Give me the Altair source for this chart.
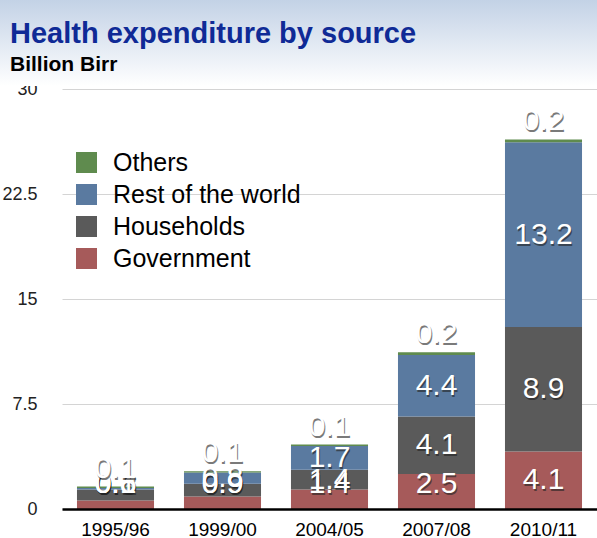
import altair as alt
import pandas as pd

years = ["1995/96", "1999/00", "2004/05", "2007/08", "2010/11"]
government = [0.6, 0.9, 1.4, 2.5, 4.1]
households = [0.8, 0.9, 1.4, 4.1, 8.9]
rest_of_world = [0.1, 0.8, 1.7, 4.4, 13.2]
others = [0.1, 0.1, 0.1, 0.2, 0.2]

sources = ["Government", "Households", "Rest of the world", "Others"]
legend_order = ["Others", "Rest of the world", "Households", "Government"]
colors = ["#5f8b4e", "#5a7aa0", "#5a5a5a", "#a65a5a"]
y_ticks = [0, 7.5, 15, 22.5, 30]

rows = []
for i, y in enumerate(years):
    for k, (s, vals) in enumerate(zip(sources, [government, households, rest_of_world, others])):
        rows.append({"year": y, "source": s, "order": k, "value": vals[i]})
df = pd.DataFrame(rows)

FONT = "Liberation Sans"

base = alt.Chart(df).transform_stack(
    stack="value", groupby=["year"], sort=[alt.SortField("order", order="ascending")], as_=["y0", "y1"]
).transform_calculate(
    mid="max((datum.y0 + datum.y1) / 2, 1.8)"
)

xenc = alt.X(
    "year:N", sort=years, title=None,
    scale=alt.Scale(paddingInner=0.28, paddingOuter=0.14),
    axis=alt.Axis(labelAngle=0, labelFontSize=19, labelColor="#000", labelFont=FONT,
                  ticks=False, tickSize=0, labelPadding=11, domain=True, domainColor="#000",
                  domainWidth=2.5, grid=False, zindex=1),
)

bars = base.mark_bar().encode(
    x=xenc,
    y=alt.Y("y0:Q", title=None, scale=alt.Scale(domain=[0, 30], nice=False),
            axis=alt.Axis(values=y_ticks, labelExpr="datum.value", labelFontSize=18,
                          labelColor="#222", labelFont=FONT, ticks=False, domain=False,
                          gridColor="#d4d4d4", gridWidth=1, labelPadding=25)),
    y2="y1:Q",
    color=alt.Color("source:N", scale=alt.Scale(domain=legend_order, range=colors),
                    legend=alt.Legend(title=None, orient="none", legendX=12, legendY=61,
                                      symbolType="square", symbolSize=440, symbolStrokeWidth=0,
                                      labelFontSize=25, labelFont=FONT, labelColor="#000",
                                      labelLimit=400,
                                      labelOffset=14, rowPadding=6, padding=0)),
)

inner = base.transform_filter("datum.order < 3")
top = base.transform_filter("datum.order == 3")

xt = alt.X("year:N", sort=years, title=None)

shadow_in = inner.mark_text(fontSize=30, font=FONT, color="#222", opacity=0.6, dx=1, dy=2,
                            baseline="middle").encode(
    x=xt, y=alt.Y("mid:Q", title=None), text=alt.Text("value:Q", format=".1f"))
text_in = inner.mark_text(fontSize=30, font=FONT, color="#fff", baseline="middle").encode(
    x=xt, y=alt.Y("mid:Q", title=None), text=alt.Text("value:Q", format=".1f"))

shadow_top = top.mark_text(fontSize=30, font=FONT, color="#222", opacity=0.6, dx=1, dy=-16,
                           baseline="middle").encode(
    x=xt, y=alt.Y("y1:Q", title=None), text=alt.Text("value:Q", format=".1f"))
text_top = top.mark_text(fontSize=30, font=FONT, color="#fff", dy=-18, baseline="middle").encode(
    x=xt, y=alt.Y("y1:Q", title=None), text=alt.Text("value:Q", format=".1f"))

one = alt.Chart(pd.DataFrame({"a": [0]}))
header = one.mark_rect(
    fill=alt.LinearGradient(gradient="linear",
                            stops=[alt.GradientStop(color="#c3d2e6", offset=0),
                                   alt.GradientStop(color="#ffffff", offset=1)],
                            x1=0, x2=0, y1=0, y2=1)
).encode(x=alt.value(-62), x2=alt.value(535), y=alt.value(-89), y2=alt.value(-3))

title = one.mark_text(text="Health expenditure by source", font=FONT, fontSize=29,
                      fontWeight="bold", color="#0f2a96", align="left",
                      baseline="alphabetic").encode(x=alt.value(-52), y=alt.value(-46))
subtitle = one.mark_text(text="Billion Birr", font=FONT, fontSize=21, fontWeight="bold",
                         color="#000", align="left",
                         baseline="alphabetic").encode(x=alt.value(-52), y=alt.value(-18))

chart = alt.layer(bars, shadow_in, text_in, shadow_top, text_top, header, title, subtitle).properties(
    width=535, height=420,
    background="#ffffff",
    autosize=alt.AutoSizeParams(type="none"),
    padding={"left": 62, "top": 89, "right": 0, "bottom": 29},
).configure_view(strokeWidth=0, strokeOpacity=0)

chart.save("out.html", embed_options={"renderer": "svg", "actions": False})
